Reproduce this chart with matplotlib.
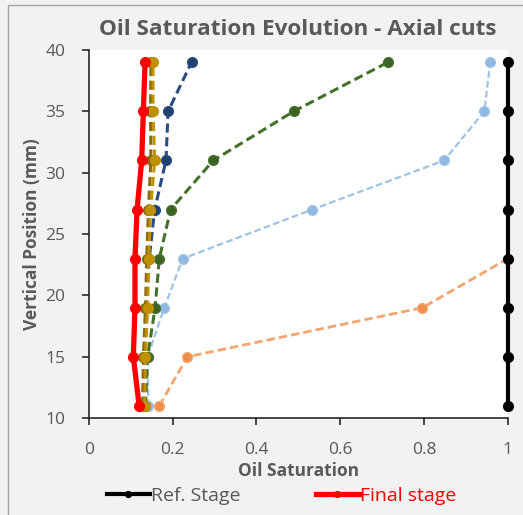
import numpy as np
import matplotlib.pyplot as plt
from matplotlib.patches import Rectangle

# Vertical positions of the axial cuts (mm)
positions = [11, 15, 19, 23, 27, 31, 35, 39]

# Oil saturation per stage (bottom to top)
ref_stage = [1, 1, 1, 1, 1, 1, 1, 1]
stage_orange = [0.168, 0.235, 0.796, 1.0, 1.0, 1.0, 1.0, 1.0]
stage_lightblue = [0.142, 0.140, 0.180, 0.224, 0.533, 0.848, 0.944, 0.958]
stage_green = [0.135, 0.140, 0.158, 0.168, 0.195, 0.297, 0.489, 0.714]
stage_navy = [0.130, 0.132, 0.136, 0.144, 0.157, 0.184, 0.189, 0.245]
stage_gold = [0.133, 0.135, 0.140, 0.143, 0.147, 0.157, 0.153, 0.153]
stage_brown = [0.128, 0.130, 0.135, 0.138, 0.142, 0.148, 0.147, 0.148]
final_stage = [0.120, 0.106, 0.110, 0.110, 0.115, 0.126, 0.130, 0.134]

text_grey = "#595959"
plt.rcParams["font.family"] = ["Open Sans", "DejaVu Sans"]

fig = plt.figure(figsize=(5.23, 5.15), dpi=100, facecolor="#f2f2f2")
ax = fig.add_axes([0.170, 0.188, 0.801, 0.715])
ax.set_facecolor("white")

# outer frame of the chart
fig.patches.append(Rectangle((8 / 523, -0.01), 1.0, 1.0 - 5 / 515 + 0.01,
                             transform=fig.transFigure, fill=False,
                             edgecolor="#a6a6a6", lw=1.0))

dash = (0, (3, 1.5))
ms = 7
ax.plot(stage_orange, positions, ls=dash, color="#f4a46c", lw=2.0,
        marker="o", ms=ms, mfc="#f08f4c", mec="#f4a46c")
ax.plot(stage_lightblue, positions, ls=dash, color="#9dc3e6", lw=1.6,
        marker="o", ms=ms, mfc="#8fb8e2", mec="#9dc3e6")
ax.plot(stage_green, positions, ls=dash, color="#44702a", lw=2.2,
        marker="o", ms=ms, mfc="#3b6324", mec="#44702a")
ax.plot(stage_navy, positions, ls=dash, color="#2b4c80", lw=2.2,
        marker="o", ms=ms, mfc="#22406e", mec="#2b4c80")
ax.plot(stage_brown, positions, ls=dash, color="#8a6a10", lw=2.2,
        marker="o", ms=ms, mfc="#8a6a10", mec="#8a6a10")
ax.plot(stage_gold, positions, ls=dash, color="#bf9000", lw=2.2,
        marker="o", ms=ms, mfc="#bf9000", mec="#bf9000")
ref_line, = ax.plot(ref_stage, positions, color="black", lw=3.0,
                    marker="o", ms=ms, label="Ref. Stage", clip_on=False)
final_line, = ax.plot(final_stage, positions, color="#ff0000", lw=3.8,
                      marker="o", ms=ms, label="Final stage")

ax.set_xlim(0, 1)
ax.set_ylim(10, 40)
ax.set_xticks(np.arange(0, 1.01, 0.2))
ax.set_xticklabels(["0", "0.2", "0.4", "0.6", "0.8", "1"])
ax.set_yticks(range(10, 41, 5))

for side in ["top", "right"]:
    ax.spines[side].set_visible(False)
for side in ["left", "bottom"]:
    ax.spines[side].set_color("#262626")
    ax.spines[side].set_linewidth(1.2)
ax.tick_params(axis="both", colors="#262626", labelcolor=text_grey,
               labelsize=12.5, length=5, width=1.2)
ax.tick_params(axis="x", pad=12)
ax.tick_params(axis="y", pad=12)

ax.set_xlabel("Oil Saturation", fontsize=12.5, fontweight="bold",
              color=text_grey, labelpad=3)
ax.set_ylabel("Vertical Position (mm)", fontsize=12.5, fontweight="bold",
              color=text_grey, labelpad=3)
fig.text(0.57, 0.942, "Oil Saturation Evolution - Axial cuts", ha="center",
         va="center", fontsize=16.2, fontweight="bold", color=text_grey)

leg = fig.legend(handles=[ref_line, final_line], loc="center",
                 bbox_to_anchor=(0.538, 0.037), ncol=2, frameon=False,
                 fontsize=14, handlelength=2.2, handletextpad=0.05,
                 columnspacing=3.9, markerscale=0.6)
leg.get_texts()[0].set_color(text_grey)
leg.get_texts()[1].set_color("#ff0000")

plt.savefig("out.png", dpi=100, facecolor=fig.get_facecolor())
